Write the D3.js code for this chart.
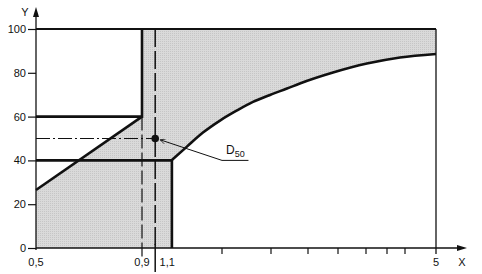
<!DOCTYPE html>
<meta charset="utf-8">
<head>
  <title>D50 zone</title>
</head>
<script src="https://d3js.org/d3.v7.min.js"></script>
<body style="margin:0;background:#fff">
  <div id="chart"></div>
</body>

<script>
  // x tick values (only some are labelled) and where they sit along the axis (fraction of width)
  var xTicks = [0.5, 0.9, 1.1, 1.5, 2, 2.5, 3, 3.5, 4, 4.5, 5];
  var xTickPos = [0, 0.265, 0.298, 0.465, 0.5875, 0.68, 0.755, 0.825, 0.8775, 0.9225, 1];
  var xLabels = [{ v: 0.5, t: "0,5" }, { v: 0.9, t: "0,9" }, { v: 1.1, t: "1,1" }, { v: 5, t: "5" }];
  var xMinor = [1.5, 2, 2.5, 3, 3.5, 4, 4.5];
  var yTicks = [0, 20, 40, 60, 80, 100];

  // boundary of the zone
  var upperEdge = [[0.5, 26.5], [0.9, 60]];
  var lowerCurve = [[1.2, 40.2], [1.29, 46.3], [1.386, 52.7], [1.488, 58.2], [1.653, 62.8], [1.816, 66.7],
    [1.99, 69.9], [2.216, 72.8], [2.39, 75.1], [2.917, 80.1], [3.52, 84.2], [4.36, 87.0], [5, 88.6]];
  var d50 = [1.1, 50];
  var leader = [[1.5, 40], [1.77, 40]];

  var margin = { top: 29, left: 36 },
    width = 400, height = 219;

  var svg = d3.select("#chart").append("svg")
    .attr("width", 482).attr("height", 274)
    .style("font-family", "'Liberation Sans', Arial, sans-serif");

  var defs = svg.append("defs");
  var pat = defs.append("pattern").attr("id", "dots")
    .attr("width", 2).attr("height", 2).attr("patternUnits", "userSpaceOnUse");
  pat.append("rect").attr("width", 2).attr("height", 2).attr("fill", "#dadada");
  pat.append("rect").attr("width", 1).attr("height", 1).attr("fill", "#c6c6c6");
  defs.append("marker").attr("id", "arr")
    .attr("viewBox", "0 0 10 10").attr("refX", 10).attr("refY", 5)
    .attr("markerWidth", 7).attr("markerHeight", 5).attr("orient", "auto-start-reverse")
    .attr("markerUnits", "userSpaceOnUse")
    .append("path").attr("d", "M0,0L10,5L0,10").attr("fill", "none").attr("stroke", "#111").attr("stroke-width", 1.5);

  var g = svg.append("g").attr("transform", "translate(" + margin.left + "," + margin.top + ")");

  var x = d3.scaleLinear().domain(xTicks).range(xTickPos.map(function (p) { return p * width; }));
  var y = d3.scaleLinear().domain([0, 100]).range([height, 0]);

  var curveLine = d3.line().x(function (d) { return x(d[0]) }).y(function (d) { return y(d[1]) })
    .curve(d3.curveMonotoneX);
  var straight = d3.line().x(function (d) { return x(d[0]) }).y(function (d) { return y(d[1]) });

  // shaded zone
  var zoneStart = [[0.5, 0]].concat(upperEdge, [[0.9, 100], [5, 100]]);
  var areaPath = straight(zoneStart) + curveLine(lowerCurve.slice().reverse()).replace("M", "L") +
    straight([[1.2, 0]]).replace("M", "L") + "Z";
  g.append("path").attr("d", areaPath).attr("fill", "url(#dots)");

  // y axis
  var yAxis = g.append("g").call(d3.axisLeft(y).tickValues(yTicks).tickSize(8).tickPadding(2));
  yAxis.select(".domain").remove();
  yAxis.selectAll("line").attr("stroke", "#111").attr("stroke-width", 1.2);
  yAxis.selectAll("text").attr("font-size", 11).attr("fill", "#111").attr("font-family", "'Liberation Sans', Arial, sans-serif");

  g.append("line").attr("x1", 0).attr("x2", 0).attr("y1", y(0) + 2).attr("y2", -15)
    .attr("stroke", "#111").attr("stroke-width", 1.3);
  g.append("path").attr("d", "M0," + (-22) + "L-3,-12L3,-12Z").attr("fill", "#111");
  svg.append("text").attr("x", 25).attr("y", 16).attr("text-anchor", "middle")
    .attr("font-size", 11).attr("fill", "#111").text("Y");

  // x axis
  g.append("line").attr("x1", 0).attr("x2", width + 24).attr("y1", y(0)).attr("y2", y(0))
    .attr("stroke", "#111").attr("stroke-width", 1.3);
  g.append("path").attr("d", "M" + (width + 31) + "," + y(0) + "l-10,-3l0,6Z").attr("fill", "#111");
  svg.append("text").attr("x", 462).attr("y", 266).attr("text-anchor", "middle")
    .attr("font-size", 11).attr("fill", "#111").text("X");

  g.selectAll(".minor").data(xMinor).enter().append("line")
    .attr("x1", function (d) { return x(d) }).attr("x2", function (d) { return x(d) })
    .attr("y1", y(0)).attr("y2", y(0) + 6)
    .attr("stroke", "#111").attr("stroke-width", 1.2);

  g.selectAll(".xl").data(xLabels).enter().append("text")
    .attr("x", function (d) { return d.v === 1.1 ? x(d.v) + 12 : x(d.v) })
    .attr("y", y(0) + 18)
    .attr("text-anchor", "middle").attr("font-size", 11).attr("fill", "#111")
    .text(function (d) { return d.t });

  // frame: top line and right edge
  g.append("line").attr("x1", 0).attr("x2", x(5)).attr("y1", y(100)).attr("y2", y(100))
    .attr("stroke", "#111").attr("stroke-width", 2);
  g.append("line").attr("x1", x(5)).attr("x2", x(5)).attr("y1", y(100)).attr("y2", y(0) + 6)
    .attr("stroke", "#111").attr("stroke-width", 1.3);

  // dashed references
  g.append("line").attr("x1", x(0.9)).attr("x2", x(0.9)).attr("y1", y(60)).attr("y2", y(0) + 9)
    .attr("stroke", "#111").attr("stroke-width", 1.2).attr("stroke-dasharray", "14,4");
  g.append("line").attr("x1", x(1.1)).attr("x2", x(1.1)).attr("y1", y(100)).attr("y2", y(0))
    .attr("stroke", "#111").attr("stroke-width", 1.5).attr("stroke-dasharray", "18,4");
  g.append("line").attr("x1", x(1.1)).attr("x2", x(1.1)).attr("y1", y(0) - 4).attr("y2", y(0) + 24)
    .attr("stroke", "#111").attr("stroke-width", 1.5);
  g.append("line").attr("x1", 0).attr("x2", x(d50[0])).attr("y1", y(d50[1])).attr("y2", y(d50[1]))
    .attr("stroke", "#111").attr("stroke-width", 1.2).attr("stroke-dasharray", "14,3,2,3");

  // thick boundary lines
  var thick = [
    [[0.5, 60], [0.9, 60], [0.9, 100]],
    upperEdge,
    [[0.5, 40], [1.2, 40], [1.2, 0]]
  ];
  thick.forEach(function (pts) {
    g.append("path").attr("d", straight(pts)).attr("fill", "none")
      .attr("stroke", "#111").attr("stroke-width", 2.6);
  });
  g.append("path").attr("d", curveLine(lowerCurve)).attr("fill", "none")
    .attr("stroke", "#111").attr("stroke-width", 2.6);

  // D50 point and leader
  g.append("circle").attr("cx", x(d50[0])).attr("cy", y(d50[1])).attr("r", 3.8).attr("fill", "#111");
  g.append("path").attr("d", straight([leader[1], leader[0], [d50[0] + 0.03, d50[1] - 0.6]]))
    .attr("fill", "none").attr("stroke", "#111").attr("stroke-width", 1)
    .attr("marker-end", "url(#arr)");
  var lbl = g.append("text").attr("x", x(leader[0][0]) + 4).attr("y", y(leader[0][1]) - 6)
    .attr("font-size", 12).attr("fill", "#111");
  lbl.append("tspan").text("D");
  lbl.append("tspan").attr("font-size", 9).attr("dy", 3).text("50");
</script>
